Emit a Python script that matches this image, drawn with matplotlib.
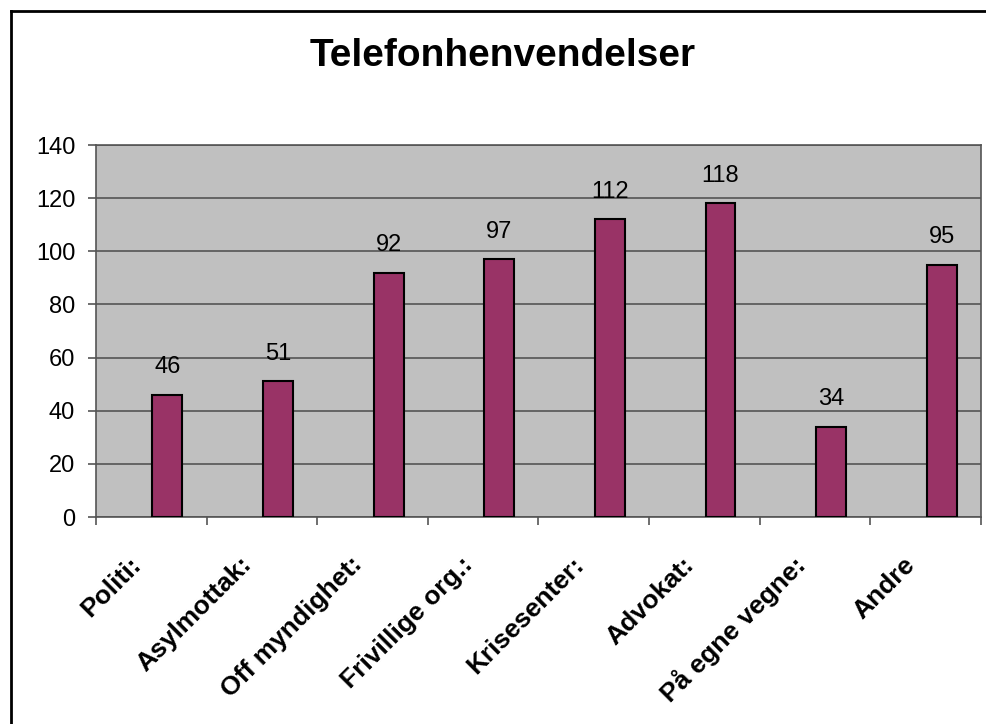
import matplotlib
matplotlib.use("Agg")
import matplotlib.pyplot as plt

categories = ["Politi:", "Asylmottak:", "Off myndighet:", "Frivillige org.:",
              "Krisesenter:", "Advokat:", "På egne vegne:", "Andre"]
values = [46, 51, 92, 97, 112, 118, 34, 95]
yticks = [0, 20, 40, 60, 80, 100, 120, 140]

plt.rcParams['font.family'] = ['Liberation Sans', 'DejaVu Sans']

fig = plt.figure(figsize=(9.87, 7.24), dpi=100)
ax = fig.add_axes([96/987, 1 - 517/724, (981 - 96)/987, (517 - 145)/724])
ax.set_facecolor('#C0C0C0')

n = len(categories)
xs = [i + 0.5 + 0.145 for i in range(n)]
ax.bar(xs, values, width=0.27, color='#993366', edgecolor='black', linewidth=1.5, zorder=3)
for x, v in zip(xs, values):
    ax.annotate(str(v), (x, v), xytext=(0, 12), textcoords='offset points',
                ha='center', va='bottom', fontsize=17, color='black')

ax.set_xlim(0, n)
ax.set_ylim(0, 140)
ax.set_yticks(yticks)
ax.set_yticklabels([str(t) for t in yticks], fontsize=17)
ax.yaxis.grid(True, color='#555555', linewidth=1.2, zorder=1)
ax.set_axisbelow(True)

ax.set_xticks(range(n + 1))
ax.set_xticklabels([])
for i, c in enumerate(categories):
    ax.annotate(c, (i + 0.5, 0), xytext=(-14, -44), textcoords='offset pixels',
                ha='right', va='center', rotation=45, rotation_mode='anchor',
                fontsize=19, fontweight='bold', annotation_clip=False)
ax.tick_params(axis='x', which='major', length=6, color='#555555', width=1.2)
ax.tick_params(axis='y', length=6, color='#555555', width=1.2, pad=9)

for s in ['left', 'bottom', 'top', 'right']:
    ax.spines[s].set_color('#555555')
    ax.spines[s].set_linewidth(1.2)

fig.text(503/987, 1 - 56/724, "Telefonhenvendelser", ha='center', va='center',
         fontsize=28, fontweight='bold')

# outer chart border (left and top visible)
fig.add_artist(plt.Line2D([11/987, 11/987], [0, 1 - 11/724], color='black', linewidth=2,
                          transform=fig.transFigure))
fig.add_artist(plt.Line2D([11/987, 1], [1 - 11/724, 1 - 11/724], color='black', linewidth=2,
                          transform=fig.transFigure))

fig.savefig("out.png", dpi=100)
